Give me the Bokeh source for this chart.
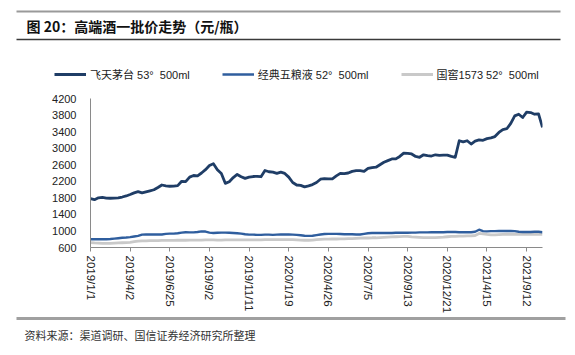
import math
from bokeh.plotting import figure
from bokeh.layouts import column
from bokeh.models import Range1d, FixedTicker, Legend, LegendItem
from bokeh.core.properties import value
from bokeh.embed import file_html
from bokeh.resources import INLINE

# ---------------- data ----------------
tick_labels = ["2019/1/1", "2019/4/2", "2019/6/25", "2019/9/2", "2019/11/11", "2020/1/19",
               "2020/4/26", "2020/7/5", "2020/9/13", "2020/12/21", "2021/4/15", "2021/9/12"]
tick_positions = [0, 10, 20, 30, 40, 50, 60, 70, 80, 90, 100, 110]

series_names = ["飞天茅台 53°  500ml", "经典五粮液 52°  500ml", "国窖1573 52°  500ml"]

moutai = [1780, 1755, 1800, 1810, 1795, 1790, 1795, 1800, 1820, 1845,
          1880, 1920, 1950, 1920, 1945, 1970, 1995, 2050, 2110, 2090,
          2080, 2085, 2095, 2200, 2190, 2300, 2340, 2330, 2400, 2480,
          2580, 2625, 2480, 2390, 2150, 2190, 2290, 2365, 2310, 2270,
          2300, 2315, 2320, 2310, 2460, 2430, 2420, 2390, 2420, 2390,
          2300, 2170, 2110, 2100, 2065, 2090, 2120, 2170, 2250, 2265,
          2260, 2260, 2330, 2390, 2385, 2400, 2440, 2455, 2455, 2440,
          2510, 2530, 2540, 2600, 2660, 2700, 2740, 2740, 2800, 2880,
          2875, 2860, 2800, 2780, 2840, 2820, 2810, 2840, 2825, 2830,
          2830, 2800, 2780, 3180, 3150, 3180, 3100, 3170, 3200, 3190,
          3230, 3250, 3280, 3380, 3450, 3470, 3600, 3780, 3820, 3740,
          3870, 3860, 3820, 3830, 3500]

wuliangye = [800, 800, 800, 800, 800, 805, 815, 825, 835, 840,
             850, 865, 880, 910, 915, 915, 915, 915, 915, 930,
             935, 935, 945, 960, 970, 965, 965, 975, 990, 985,
             960, 950, 955, 960, 960, 955, 950, 945, 935, 920,
             910, 910, 905, 905, 910, 910, 905, 910, 915, 915,
             915, 910, 905, 895, 885, 880, 885, 900, 915, 925,
             930, 930, 930, 925, 920, 920, 920, 915, 915, 930,
             945, 950, 950, 950, 950, 950, 950, 955, 955, 955,
             955, 960, 960, 965, 965, 965, 970, 970, 970, 970,
             975, 975, 975, 970, 970, 970, 970, 980, 1030, 995,
             990, 995, 995, 1000, 1000, 1000, 1000, 995, 980, 975,
             975, 975, 980, 980, 970]

guojiao = [720, 710, 705, 700, 700, 700, 705, 710, 715, 720,
           725, 740, 755, 760, 760, 765, 765, 765, 770, 770,
           770, 770, 775, 775, 775, 780, 780, 780, 780, 785,
           785, 785, 780, 780, 785, 785, 785, 785, 785, 785,
           785, 785, 785, 785, 790, 790, 790, 790, 790, 790,
           790, 790, 785, 780, 775, 775, 780, 790, 795, 800,
           800, 805, 805, 810, 810, 815, 815, 820, 825, 830,
           830, 835, 835, 840, 845, 850, 855, 860, 865, 870,
           870, 855, 850, 845, 840, 840, 840, 840, 845, 850,
           860, 870, 870, 875, 875, 880, 880, 890, 940, 930,
           915, 905, 905, 910, 915, 920, 920, 920, 915, 915,
           915, 915, 920, 920, 920]

y_ticks = [600, 1000, 1400, 1800, 2200, 2600, 3000, 3400, 3800, 4200]

series = [moutai, wuliangye, guojiao]
idx = list(range(len(moutai)))

colors = ["#1f3d66", "#2f5e9e", "#c9c9c9"]
widths = [2.8, 2.4, 2.8]

W = 567
LATIN = "Liberation Sans, Noto Sans CJK SC"
CJK = "Noto Sans CJK SC"


def no_align(f):
    if "frame_align" in f.properties():
        f.frame_align = False


def deco_fig(h, y0):
    f = figure(width=W, height=h, x_range=Range1d(0, W), y_range=Range1d(y0 + h, y0),
               output_backend="svg", toolbar_location=None, min_border=0,
               x_axis_location=None, y_axis_location=None)
    f.grid.visible = False
    f.outline_line_color = None
    f.background_fill_color = "white"
    f.border_fill_color = "white"
    no_align(f)
    return f


# ---------------- header (title, rules, legend) ----------------
HEAD_H = 90
header = deco_fig(HEAD_H, 0)
header.segment(x0=[16, 16], y0=[11, 39], x1=[560, 560], y1=[11, 39],
               line_color=["#9a9a9a", "#3a3a3a"], line_width=[2, 1.5])
header.text(x=[26], y=[25], text=["图 20：高端酒一批价走势（元/瓶）"],
            text_font=value(CJK), text_font_style="bold", text_font_size="14px",
            text_baseline="middle", text_align="left", text_color="#111111")

# legend keys: same series, falling outside this strip's range, so only the key shows
proxies = [header.line(idx, s, line_color=c, line_width=w)
           for s, c, w in zip(series, colors, widths)]
legend = Legend(items=[LegendItem(label=n, renderers=[r]) for n, r in zip(series_names, proxies)],
                location=(54, 8), orientation="horizontal",
                glyph_width=32, glyph_height=12, label_height=12, label_standoff=4,
                spacing=32, padding=0, margin=0, border_line_color=None,
                background_fill_alpha=0, label_text_font=LATIN,
                label_text_font_size="11px", label_text_color="#222222")
header.add_layout(legend)

# ---------------- main chart ----------------
MAIN_H = 226
p = figure(width=W, height=MAIN_H, output_backend="svg", toolbar_location=None,
           x_range=Range1d(0, len(moutai) - 1), y_range=Range1d(600, 4200),
           min_border_left=90, min_border_right=25, min_border_top=8, min_border_bottom=67)
p.grid.visible = False
p.outline_line_color = None
p.background_fill_color = "white"
p.border_fill_color = "white"
no_align(p)

p.line(idx, guojiao, line_color=colors[2], line_width=widths[2], line_join="round")
p.line(idx, wuliangye, line_color=colors[1], line_width=widths[1], line_join="round")
p.line(idx, moutai, line_color=colors[0], line_width=widths[0], line_join="round")

xa = p.xaxis[0]
xa.ticker = FixedTicker(ticks=tick_positions)
xa.major_label_overrides = {t: l for t, l in zip(tick_positions, tick_labels)}
xa.major_label_orientation = -math.pi / 2
xa.axis_line_color = "#8a8a8a"
xa.major_tick_line_color = "#8a8a8a"
xa.major_tick_out = 4
xa.major_tick_in = 0
xa.minor_tick_line_color = None
xa.major_label_text_font = LATIN
xa.major_label_text_font_size = "11.5px"
xa.major_label_text_color = "#222222"
xa.major_label_standoff = 4

ya = p.yaxis[0]
ya.ticker = FixedTicker(ticks=y_ticks)
ya.axis_line_color = "#8a8a8a"
ya.major_tick_line_color = None
ya.minor_tick_line_color = None
ya.major_label_text_font = LATIN
ya.major_label_text_font_size = "11px"
ya.major_label_text_color = "#222222"
ya.major_label_standoff = 8

# ---------------- footer ----------------
footer = deco_fig(31, 316)
footer.segment(x0=[16], y0=[318], x1=[565], y1=[318], line_color="#a0a0a0", line_width=3)
footer.text(x=[24], y=[334], text=["资料来源：渠道调研、国信证券经济研究所整理"],
            text_font=value(CJK), text_font_size="11px", text_baseline="middle",
            text_align="left", text_color="#333333")

layout = column(header, p, footer, spacing=0)

open("out.html", "w").write(file_html(layout, INLINE))
